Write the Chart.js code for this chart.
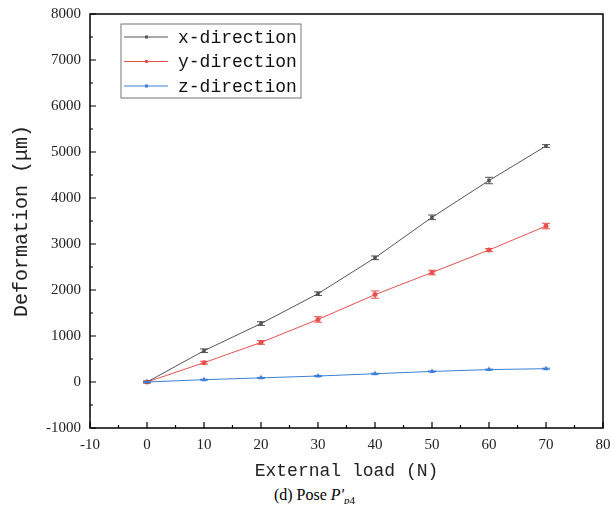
<!DOCTYPE html>
<html>
<head>
<meta charset="utf-8">
<script src="https://cdn.jsdelivr.net/npm/chart.js@4.4.0/dist/chart.umd.min.js"></script>
<style>
body { margin: 0; background: #fff; }
#wrap { position: relative; width: 615px; height: 486px; }
#caption { width: 615px; padding-left: 14px; box-sizing: border-box; text-align: center; font-family: "Liberation Serif", serif; font-size: 16px; color: #000; line-height: 18px; }
</style>
</head>
<body>
<div id="wrap"><canvas id="c" width="615" height="486"></canvas></div>
<div id="caption">(d) Pose <i>P′</i><sub style="font-size:11px;line-height:0"><i>p</i>4</sub></div>
<script>
const loads = [0, 10, 20, 30, 40, 50, 60, 70];
const xDir = [0, 680, 1270, 1920, 2700, 3580, 4380, 5130];
const yDir = [0, 420, 860, 1360, 1900, 2380, 2870, 3390];
const zDir = [0, 50, 90, 130, 180, 230, 270, 290];
const xErr = [20, 40, 40, 40, 40, 50, 70, 30];
const yErr = [20, 30, 40, 60, 80, 50, 30, 60];
const zErr = [10, 10, 10, 10, 10, 10, 10, 10];

const colX = '#555555', colY = '#e8524f', colZ = '#3d7fd6';
const monoFont = '"Liberation Mono", "DejaVu Sans Mono", monospace';
const serifFont = '"Liberation Serif", serif';

function pts(vals){ return loads.map((x, i) => ({x: x, y: vals[i]})); }

const errs = [xErr, yErr, zErr];

// error bars, inward ticks, frame and legend
const decor = {
    id: 'decor',
    afterDatasetsDraw(chart){
        const ctx = chart.ctx;
        const xs = chart.scales.x, ys = chart.scales.y;
        ctx.save();
        chart.data.datasets.forEach((ds, di) => {
            ctx.strokeStyle = ds.borderColor;
            ctx.lineWidth = 1;
            ds.data.forEach((p, i) => {
                const e = errs[di][i];
                const px = xs.getPixelForValue(p.x);
                const top = ys.getPixelForValue(p.y + e), bot = ys.getPixelForValue(p.y - e);
                ctx.beginPath();
                ctx.moveTo(px, top); ctx.lineTo(px, bot);
                ctx.moveTo(px - 4, top); ctx.lineTo(px + 4, top);
                ctx.moveTo(px - 4, bot); ctx.lineTo(px + 4, bot);
                ctx.stroke();
            });
        });
        ctx.restore();
    },
    afterDraw(chart){
        const ctx = chart.ctx;
        const a = chart.chartArea;
        const xs = chart.scales.x, ys = chart.scales.y;
        ctx.save();
        ctx.strokeStyle = '#000';
        ctx.lineWidth = 1.5;
        ctx.strokeRect(a.left, a.top, a.right - a.left, a.bottom - a.top);
        ctx.lineWidth = 1.2;
        ctx.beginPath();
        for(let v = -10; v <= 80; v += 5){
            const px = xs.getPixelForValue(v);
            const len = v % 10 === 0 ? 6 : 3;
            ctx.moveTo(px, a.bottom); ctx.lineTo(px, a.bottom - len);
        }
        for(let v = -1000; v <= 8000; v += 500){
            const py = ys.getPixelForValue(v);
            const len = v % 1000 === 0 ? 6 : 3;
            ctx.moveTo(a.left, py); ctx.lineTo(a.left + len, py);
        }
        ctx.stroke();

        // legend
        const bx = 121, by = 24, bw = 180, bh = 74;
        ctx.lineWidth = 1;
        ctx.strokeStyle = '#777';
        ctx.fillStyle = '#fff';
        ctx.fillRect(bx, by, bw, bh);
        ctx.strokeRect(bx, by, bw, bh);
        ctx.font = '18px ' + monoFont;
        ctx.textBaseline = 'middle';
        chart.data.datasets.forEach((ds, i) => {
            const cy = by + 13 + i * 24.5;
            ctx.strokeStyle = ds.borderColor;
            ctx.beginPath(); ctx.moveTo(bx + 3, cy); ctx.lineTo(bx + 47, cy); ctx.stroke();
            ctx.fillStyle = ds.borderColor;
            ctx.fillRect(bx + 24, cy - 1.5, 3, 3);
            ctx.fillStyle = '#111';
            ctx.fillText(ds.label, bx + 57, cy + 1);
        });
        ctx.restore();
    }
};

new Chart(document.getElementById('c'), {
    type: 'scatter',
    data: {
        datasets: [
            { label: 'x-direction', data: pts(xDir), borderColor: colX, backgroundColor: colX, pointStyle: 'rect', pointRadius: 2.5 },
            { label: 'y-direction', data: pts(yDir), borderColor: colY, backgroundColor: colY, pointStyle: 'circle', pointRadius: 2.5 },
            { label: 'z-direction', data: pts(zDir), borderColor: colZ, backgroundColor: colZ, pointStyle: 'triangle', pointRadius: 3 }
        ].map(d => Object.assign(d, { showLine: true, borderWidth: 1, pointBorderWidth: 0 }))
    },
    options: {
        responsive: false,
        animation: false,
        layout: { padding: { top: 14, right: 12, left: 0, bottom: 0 } },
        plugins: { legend: { display: false }, tooltip: { enabled: false } },
        scales: {
            x: {
                min: -10, max: 80,
                afterFit: s => { s.height = 58; },
                ticks: { stepSize: 10, color: '#222', padding: 2, font: { family: serifFont, size: 15 }, callback: v => String(v) },
                grid: { drawOnChartArea: false, color: 'transparent', tickLength: 6 },
                border: { display: false },
                title: { display: true, text: 'External load (N)', color: '#222', padding: { top: 6 }, font: { family: monoFont, size: 18 } }
            },
            y: {
                min: -1000, max: 8000,
                afterFit: s => { s.width = 90; },
                ticks: { stepSize: 1000, color: '#222', padding: 3, font: { family: serifFont, size: 15 }, callback: v => String(v) },
                grid: { drawOnChartArea: false, color: 'transparent', tickLength: 6 },
                border: { display: false },
                title: { display: true, text: 'Deformation (μm)', color: '#222', padding: { top: 10, bottom: 0 }, font: { family: monoFont, size: 20 } }
            }
        }
    },
    plugins: [decor]
});
</script>
</body>
</html>
